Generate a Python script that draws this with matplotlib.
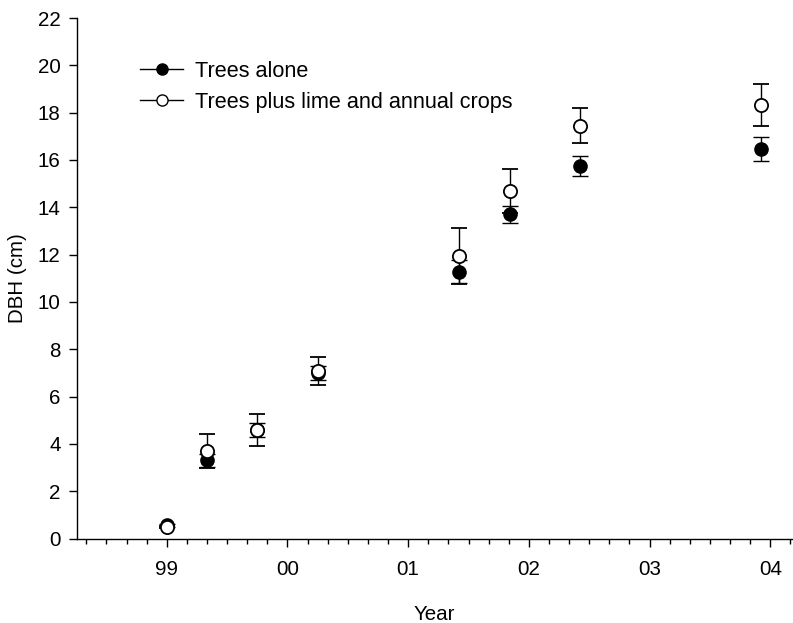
import matplotlib
matplotlib.use("Agg")
import matplotlib.pyplot as plt
from matplotlib.lines import Line2D
from matplotlib.ticker import MultipleLocator, FixedLocator

plt.rcParams['font.family'] = ['Liberation Sans', 'DejaVu Sans']

# Data
years = [1999.00, 1999.33, 1999.75, 2000.25, 2001.42, 2001.84, 2002.42, 2003.92]
alone = [0.55, 3.30, 4.58, 7.00, 11.27, 13.70, 15.75, 16.45]
alone_err = [0.05, 0.26, 0.30, 0.30, 0.49, 0.37, 0.43, 0.50]
crops = [0.48, 3.70, 4.60, 7.07, 11.95, 14.69, 17.45, 18.33]
crops_err = [0.05, 0.70, 0.68, 0.60, 1.18, 0.92, 0.74, 0.90]
tick_years = [1999, 2000, 2001, 2002, 2003, 2004]
tick_labels = ["99", "00", "01", "02", "03", "04"]
yticks = [0, 2, 4, 6, 8, 10, 12, 14, 16, 18, 20, 22]
labels = ["Trees alone", "Trees plus lime and annual crops"]

W, H = 793, 623
fig = plt.figure(figsize=(W / 100, H / 100), dpi=100)
x0, x1 = 76.7, 792.0
y0, y1 = 538.5, 18.0
ax = fig.add_axes([x0 / W, 1 - y0 / H, (x1 - x0) / W, (y0 - y1) / H])

fs = 14.8
ms = 9.5
ax.errorbar(years, alone, yerr=alone_err, fmt='o', color='black', mfc='black', mec='black',
            ms=ms, mew=1.0, ecolor='black', elinewidth=1.0, capsize=5.5, capthick=1.0, zorder=3)
ax.errorbar(years, crops, yerr=crops_err, fmt='o', color='black', mfc='white', mec='black',
            ms=ms, mew=1.3, ecolor='black', elinewidth=1.0, capsize=5.5, capthick=1.0, zorder=4)

ax.set_xlim(1999 - 0.746, 1999 + 5.18)
ax.set_ylim(0, 22)
ax.xaxis.set_major_locator(FixedLocator(tick_years))
ax.set_xticklabels(tick_labels)
ax.xaxis.set_minor_locator(MultipleLocator(1 / 6))
ax.set_yticks(yticks)
ax.set_yticklabels([str(v) for v in yticks])

for s in ['top', 'right']:
    ax.spines[s].set_visible(False)
for s in ['left', 'bottom']:
    ax.spines[s].set_linewidth(1.0)

ax.tick_params(axis='both', which='major', direction='out', length=5.5, width=1.0,
               labelsize=fs, colors='black')
ax.tick_params(axis='x', which='major', pad=10)
ax.tick_params(axis='y', which='major', pad=6)
ax.tick_params(axis='x', which='minor', direction='out', length=3.3, width=1.0)

ax.set_xlabel("Year", fontsize=fs, labelpad=19)
ax.set_ylabel("DBH (cm)", fontsize=fs, labelpad=8)

handles = [
    Line2D([], [], color='black', lw=1.0, marker='o', mfc='black', mec='black', ms=8, mew=1.0),
    Line2D([], [], color='black', lw=1.0, marker='o', mfc='white', mec='black', ms=8, mew=1.0),
]
leg = fig.legend(handles, labels, loc='upper left', bbox_to_anchor=(140 / W, 1 - 61 / H),
                 frameon=False, fontsize=15.6, handlelength=2.0, handletextpad=0.55,
                 borderpad=0, borderaxespad=0, labelspacing=0.45)

fig.savefig("out.png", dpi=100)
